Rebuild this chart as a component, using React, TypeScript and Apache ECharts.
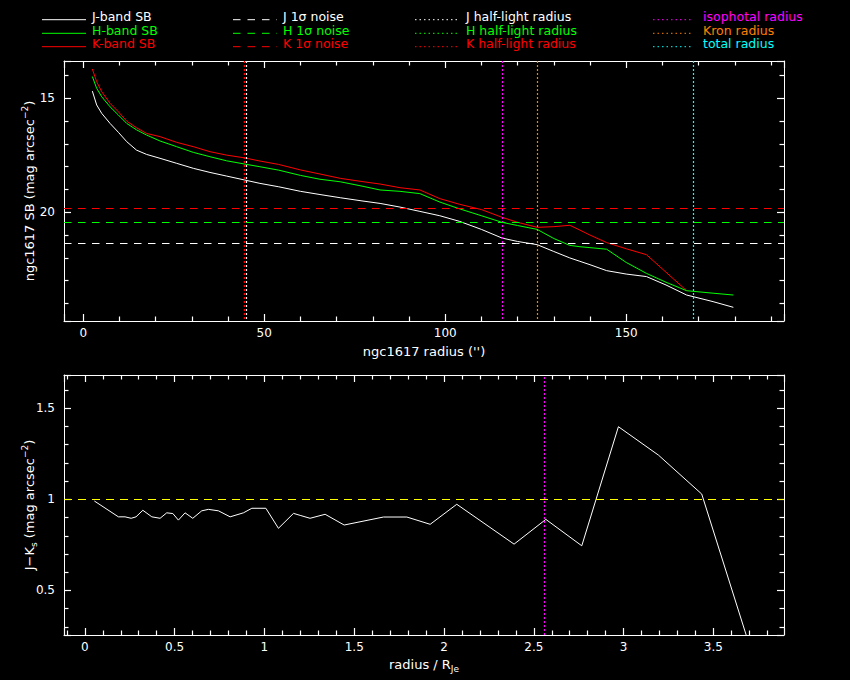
import React, { useEffect, useRef } from "react";
import * as echarts from "echarts";

const FONT = "DejaVu Sans";

// ---- Top panel: surface-brightness profiles (radius in arcsec, SB in mag/arcsec^2)
const radiusSB = [
  2.5, 3.7, 5.1, 7.4, 9.7, 12, 14.7, 17.5, 21.2, 25.8, 30.4, 35, 39.6, 44.5, 48.8, 54, 60, 65.4, 71, 77,
  82, 87.5, 93, 98.5, 104, 110, 115.7, 120, 125.4, 130, 134.4, 137.2, 140, 144.6, 150, 155.6, 161, 166.7,
  174, 179.6,
];
const jSB = [
  14.68, 15.29, 15.66, 16.1, 16.49, 16.9, 17.27, 17.46, 17.63, 17.85, 18.07, 18.25, 18.41, 18.58, 18.73,
  18.88, 19.08, 19.22, 19.36, 19.5, 19.61, 19.77, 19.96, 20.15, 20.4, 20.75, 21.13, 21.28, 21.42, 21.72,
  22.0, 22.15, 22.3, 22.56, 22.71, 22.82, 23.19, 23.63, 23.92, 24.17,
];
const hSB = [
  14.04, 14.56, 14.93, 15.37, 15.73, 16.1, 16.38, 16.61, 16.87, 17.12, 17.37, 17.56, 17.74, 17.88, 18.0,
  18.15, 18.38, 18.55, 18.66, 18.85, 19.02, 19.08, 19.18, 19.55, 19.85, 20.15, 20.44, 20.58, 20.75, 21.15,
  21.45, 21.51, 21.55, 21.62, 22.2, 22.68, 23.07, 23.44, 23.55, 23.63,
];
const kSB = [
  13.71, 14.27, 14.71, 15.22, 15.59, 16.0, 16.29, 16.54, 16.68, 16.93, 17.12, 17.34, 17.49, 17.61, 17.75,
  17.9, 18.14, 18.32, 18.51, 18.65, 18.76, 18.92, 19.02, 19.4, 19.65, 19.88, 20.22, 20.44, 20.66, 20.63,
  20.57, 20.78, 21.0, 21.33, 21.6, 21.86, 22.63, 23.44, null, null,
];
const noiseLevels = [21.36, 20.44, 19.82]; // J, H, K 1-sigma noise
const halfLightRadii = [45.0, 44.6, 44.5]; // J, H, K
const apertureRadii = [115.7, 125.4, 168.5]; // isophotal, Kron, total

// ---- Bottom panel: J-Ks colour profile vs radius / R_Je
const radiusNorm = [
  0.053, 0.187, 0.224, 0.258, 0.285, 0.323, 0.373, 0.419, 0.456, 0.49, 0.521, 0.558, 0.601, 0.651, 0.688,
  0.744, 0.809, 0.883, 0.93, 1.008, 1.078, 1.162, 1.199, 1.254, 1.338, 1.444, 1.663, 1.793, 1.923, 2.071,
  2.39, 2.567, 2.767, 2.971, 3.194, 3.435, 3.7,
];
const colourJK = [
  0.991, 0.904, 0.904, 0.896, 0.904, 0.94, 0.904, 0.896, 0.926, 0.922, 0.886, 0.926, 0.896, 0.937, 0.945,
  0.937, 0.904, 0.926, 0.951, 0.951, 0.841, 0.923, 0.912, 0.896, 0.918, 0.859, 0.903, 0.903, 0.863, 0.973,
  0.754, 0.89, 0.745, 1.399, 1.243, 1.029, 0.2,
];
const isophotalNorm = 2.561;
const colourReference = 1.0;

// ---- Legend texts
const legendSB = ["J-band SB", "H-band SB", "K-band SB"];
const legendNoise = ["J 1σ noise", "H 1σ noise", "K 1σ noise"];
const legendHalf = ["J half-light radius", "H half-light radius", "K half-light radius"];
const legendAper = ["isophotal radius", "Kron radius", "total radius"];

// ---- Styles
const bandColors = ["#ffffff", "#00ff00", "#ff0000"];
const aperColors = ["#ff00ff", "#ff8000", "#00ffff"];
const yellow = "#ffff00";
const DOT = [2, 2];
const DASH = [7.5, 6.5];
const TICK_W = 1.2;
const DOT_W = 1.2;

const fmt = (v: number) => String(parseFloat(v.toFixed(3)));

function axis(o: {
  kind: "x" | "y";
  gridIndex: number;
  position: string;
  min: number;
  max: number;
  step: number;
  labels: boolean;
  inverse?: boolean;
  name?: string;
  nameGap?: number;
}) {
  return {
    type: "value",
    gridIndex: o.gridIndex,
    position: o.position,
    min: o.min,
    max: o.max,
    minInterval: o.step,
    maxInterval: o.step,
    inverse: !!o.inverse,
    axisLine: { show: true, onZero: false, lineStyle: { color: "#ffffff", width: 1 } },
    axisTick: { show: true, inside: true, length: 7, lineStyle: { color: "#ffffff", width: TICK_W } },
    minorTick: { show: true, splitNumber: 5, length: 4.5, lineStyle: { color: "#ffffff", width: TICK_W } },
    splitLine: { show: false },
    minorSplitLine: { show: false },
    axisLabel: {
      show: o.labels,
      color: "#fff",
      fontFamily: FONT,
      fontSize: 12,
      margin: o.kind === "x" ? 6 : 9,
      formatter: (v: number) => {
        const k = v / o.step;
        return Math.abs(k - Math.round(k)) < 1e-6 ? fmt(v) : "";
      },
    },
    name: o.name ?? "",
    nameLocation: "middle",
    nameGap: o.nameGap ?? 0,
    nameMoveOverlap: false,
    nameTextStyle: {
      color: "#fff",
      fontFamily: FONT,
      fontSize: 13,
      rich: {
        t: { color: "#fff", fontFamily: FONT, fontSize: 13 },
        sup: { color: "#fff", fontFamily: FONT, fontSize: 9, padding: [0, 0, 10, 0] },
        sub: { color: "#fff", fontFamily: FONT, fontSize: 9, padding: [8, 0, 0, 0] },
      },
    },
  };
}

function pairs(xs: number[], ys: (number | null)[]) {
  const out: number[][] = [];
  xs.forEach((x, i) => {
    const y = ys[i];
    if (y !== null && y !== undefined) out.push([x, y]);
  });
  return out;
}

function buildLegend() {
  const rowsText = [16.7, 30.2, 43.8];
  const rowsLine = [19.7, 33.3, 46.7];
  const cols = [
    { texts: legendSB, colors: bandColors, x1: 42, x2: 86, tx: 92, dash: null as number[] | null },
    { texts: legendNoise, colors: bandColors, x1: 233, x2: 277, tx: 283, dash: [7.5, 7] },
    { texts: legendHalf, colors: bandColors, x1: 415, x2: 457, tx: 466, dash: [1.5, 3] },
    { texts: legendAper, colors: aperColors, x1: 653, x2: 693, tx: 703, dash: [1.5, 3] },
  ];
  const els: any[] = [];
  cols.forEach((c) => {
    c.texts.forEach((t, i) => {
      els.push({
        type: "line",
        silent: true,
        shape: { x1: c.x1, y1: rowsLine[i], x2: c.x2, y2: rowsLine[i] },
        style: { stroke: c.colors[i], lineWidth: 1, lineDash: c.dash ?? undefined },
      });
      els.push({
        type: "text",
        silent: true,
        x: c.tx,
        y: rowsText[i],
        style: {
          text: t,
          fill: c.colors[i],
          fontFamily: FONT,
          fontSize: 12.5,
          lineHeight: 12,
          align: "left",
          verticalAlign: "middle",
        },
      });
    });
  });
  return els;
}

function buildOption() {
  const topMarkLines = (i: number) => ({
    silent: true,
    symbol: ["none", "none"],
    label: { show: false },
    data: [
      { yAxis: noiseLevels[i], lineStyle: { color: bandColors[i], width: 1, type: DASH } },
      { xAxis: halfLightRadii[i], lineStyle: { color: bandColors[i], width: DOT_W, type: DOT } },
      ...(i === 0
        ? apertureRadii.map((r, k) => ({
            xAxis: r,
            lineStyle: { color: aperColors[k], width: DOT_W, type: DOT },
          }))
        : []),
    ],
  });

  const sbSeries = [jSB, hSB, kSB].map((ys, i) => ({
    type: "line",
    xAxisIndex: 0,
    yAxisIndex: 0,
    data: pairs(radiusSB, ys),
    showSymbol: false,
    symbol: "none",
    lineStyle: { color: bandColors[i], width: 1 },
    itemStyle: { color: bandColors[i] },
    z: 3 - i,
    markLine: topMarkLines(i),
  }));

  return {
    animation: false,
    backgroundColor: "#000",
    grid: [
      { left: 64, top: 61, width: 720, height: 260 },
      { left: 64, top: 375, width: 720, height: 260 },
    ],
    xAxis: [
      axis({
        kind: "x", gridIndex: 0, position: "bottom", min: -5.33, max: 193.6, step: 50, labels: true,
        name: "ngc1617 radius ('')", nameGap: 24,
      }),
      axis({ kind: "x", gridIndex: 0, position: "top", min: -5.33, max: 193.6, step: 50, labels: false }),
      axis({
        kind: "x", gridIndex: 1, position: "bottom", min: -0.116, max: 3.893, step: 0.5, labels: true,
        name: "{t|radius / R}{sub|Je}", nameGap: 21,
      }),
      axis({ kind: "x", gridIndex: 1, position: "top", min: -0.116, max: 3.893, step: 0.5, labels: false }),
    ],
    yAxis: [
      axis({
        kind: "y", gridIndex: 0, position: "left", min: 13.36, max: 24.77, step: 5, labels: true, inverse: true,
        name: "{t|ngc1617 SB (mag arcsec}{sup|−2}{t|)}", nameGap: 25,
      }),
      axis({ kind: "y", gridIndex: 0, position: "right", min: 13.36, max: 24.77, step: 5, labels: false, inverse: true }),
      axis({
        kind: "y", gridIndex: 1, position: "left", min: 0.255, max: 1.683, step: 0.5, labels: true,
        name: "{t|J−K}{sub|s}{t| (mag arcsec}{sup|−2}{t|)}", nameGap: 25,
      }),
      axis({ kind: "y", gridIndex: 1, position: "right", min: 0.255, max: 1.683, step: 0.5, labels: false }),
    ],
    series: [
      ...sbSeries,
      {
        type: "line",
        xAxisIndex: 2,
        yAxisIndex: 2,
        data: pairs(radiusNorm, colourJK),
        showSymbol: false,
        symbol: "none",
        clip: true,
        lineStyle: { color: "#ffffff", width: 1 },
        itemStyle: { color: "#ffffff" },
        markLine: {
          silent: true,
          symbol: ["none", "none"],
          label: { show: false },
          data: [
            { yAxis: colourReference, lineStyle: { color: yellow, width: 1, type: [8, 6] } },
            { xAxis: isophotalNorm, lineStyle: { color: aperColors[0], width: DOT_W, type: DOT } },
          ],
        },
      },
    ],
    graphic: buildLegend(),
  };
}

export default function App() {
  const ref = useRef<HTMLDivElement>(null);
  useEffect(() => {
    if (!ref.current) return;
    const chart = echarts.init(ref.current, null, { renderer: "svg", width: 850, height: 680 });
    chart.setOption(buildOption() as any);
    return () => chart.dispose();
  }, []);
  return (
    <div
      ref={ref}
      style={{ position: "fixed", left: 0, top: 0, width: 850, height: 680, background: "#000" }}
    />
  );
}
